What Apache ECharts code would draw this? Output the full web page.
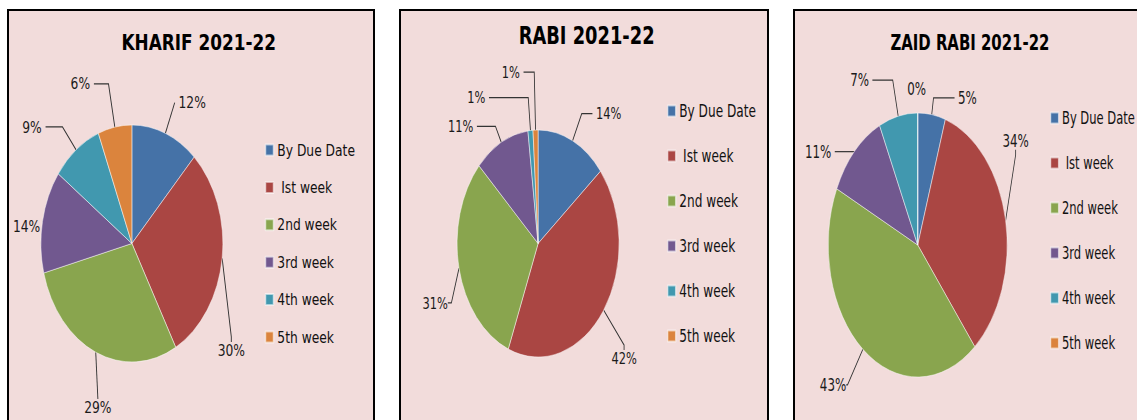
<!DOCTYPE html>
<html>
<head>
<meta charset="utf-8">
<script src="https://cdn.jsdelivr.net/npm/echarts@6/dist/echarts.min.js"></script>
<style>
html,body{margin:0;padding:0;width:1137px;height:420px;overflow:hidden;background:#ffffff;}
.panel{position:absolute;top:9px;height:430px;border:2px solid #000;background:#F2DCDB;overflow:hidden;}
.chart{position:absolute;left:0;top:0;height:430px;transform-origin:0 0;}
</style>
</head>
<body>
<div class="panel" style="left:7px;width:364px"><div class="chart" id="c1"></div></div>
<div class="panel" style="left:399px;width:366px"><div class="chart" id="c2"></div></div>
<div class="panel" style="left:793px;width:366px"><div class="chart" id="c3"></div></div>
<script>
// ---- data ----
const categories = ['By Due Date', ' Ist week', '2nd week', '3rd week', '4th week', '5th week'];
const titles = ['KHARIF 2021-22', 'RABI 2021-22', 'ZAID RABI 2021-22'];
const kharifValues = [12, 30, 29, 14, 9, 6];
const rabiValues = [14, 42, 31, 11, 1, 1];
const zaidRabiValues = [5, 34, 43, 11, 7, 0];

// ---- styles ----
const sliceColors = ['#4572A7', '#AA4643', '#89A54E', '#71588F', '#4198AF', '#DB843D'];
const FONT = 'DejaVu Sans';

const panelStyles = [
  { id: 'c1', width: 364, sx: 0.768, values: kharifValues, title: titles[0],
    center: [160, 232.5], radius: 118.5,
    titleX: 247, titleTop: 21, titleSize: 22,
    legendLeft: 333, legendTop: 130, legendGap: 19.4, legendFont: 16, iconW: 10.4,
    labelFont: 16,
    lineLens: [[33, 0], [10, 5], [60, 0], [0, 0], [29, 22], [44, 19]],
    labelOffsets: [null, [-25.8, 90.3], [49.4, -0.4], [2, 5], null, null],
    hideLine: [3] },
  { id: 'c2', width: 366, sx: 0.714, values: rabiValues, title: titles[1],
    center: [192, 232.5], radius: 113.5,
    titleX: 260, titleTop: 12, titleSize: 25,
    legendLeft: 372.5, legendTop: 91, legendGap: 27, legendFont: 17, iconW: 11.2,
    labelFont: 16,
    lineLens: [[30, 15], [15, 5], [10, 5], [18, 26], [33, 55], [58, 15]],
    labelOffsets: [null, [-11.3, 39], [4.1, 32.5], null, null, null],
    hideLine: [] },
  { id: 'c3', width: 366, sx: 0.678, values: zaidRabiValues, title: titles[2],
    center: [181, 234], radius: 132,
    titleX: 258, titleTop: 20, titleSize: 22,
    legendLeft: 376, legendTop: 98, legendGap: 27, legendFont: 17, iconW: 11.8,
    labelFont: 17.5,
    lineLens: [[17, 31], [10, 5], [45, 2], [0, 29], [37, 30], [24, 0]],
    labelOffsets: [null, [-24.5, -77.6], [10, 0], null, null, [-1.5, -24, 'edge']],
    hideLine: [5] }
];

panelStyles.forEach(function (ps) {
  const el = document.getElementById(ps.id);
  el.style.width = (ps.width / ps.sx) + 'px';
  el.style.transform = 'scaleX(' + ps.sx + ')';
  const chart = echarts.init(el, null, { renderer: 'svg' });
  const data = categories.map(function (name, i) {
    return {
      name: name,
      value: ps.values[i],
      itemStyle: { color: sliceColors[i] },
      labelLine: { show: ps.hideLine.indexOf(i) < 0, length: ps.lineLens[i][0], length2: ps.lineLens[i][1] }
    };
  });
  chart.setOption({
    animation: false,
    backgroundColor: 'transparent',
    title: {
      text: ps.title,
      left: ps.titleX,
      top: ps.titleTop,
      textAlign: 'center',
      padding: 0,
      textStyle: { fontFamily: FONT, fontWeight: 'bold', fontSize: ps.titleSize, color: '#000000', lineHeight: ps.titleSize }
    },
    legend: {
      orient: 'vertical',
      left: ps.legendLeft,
      top: ps.legendTop,
      padding: 0,
      itemGap: ps.legendGap,
      itemWidth: ps.iconW,
      itemHeight: 11,
      icon: 'rect',
      selectedMode: false,
      data: categories,
      textStyle: { fontFamily: FONT, fontSize: ps.legendFont, color: '#111111', lineHeight: 18 }
    },
    series: [{
      type: 'pie',
      center: ps.center,
      radius: ps.radius,
      startAngle: 90,
      clockwise: true,
      avoidLabelOverlap: false,
      minShowLabelAngle: 0,
      emphasis: { disabled: true },
      itemStyle: { borderColor: 'rgba(255,255,255,0.55)', borderWidth: 1 },
      label: {
        show: true,
        position: 'outside',
        fontFamily: FONT,
        fontSize: ps.labelFont,
        color: '#1a1a1a',
        formatter: function (p) { return p.value + '%'; }
      },
      labelLine: { show: true, lineStyle: { color: '#333333', width: 1.2 } },
      labelLayout: function (p) {
        const off = ps.labelOffsets[p.dataIndex];
        if (!off) return {};
        let anchor;
        if (off[2] === 'edge' && p.labelLinePoints) {
          anchor = p.labelLinePoints[0];
        } else {
          anchor = [p.labelRect.x + p.labelRect.width / 2, p.labelRect.y + p.labelRect.height / 2];
        }
        return { x: anchor[0] + off[0], y: anchor[1] + off[1], align: 'center', verticalAlign: 'middle' };
      },
      data: data
    }]
  });
});
</script>
</body>
</html>
